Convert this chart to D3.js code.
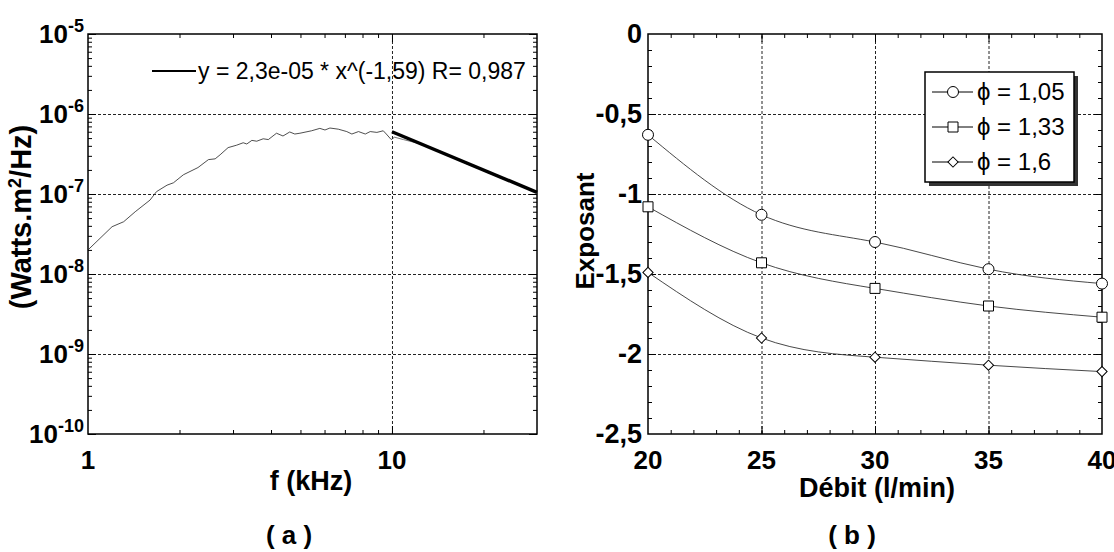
<!DOCTYPE html>
<html>
<head>
<meta charset="utf-8">
<script src="https://cdn.jsdelivr.net/npm/d3@7"></script>
<style>
body { margin: 0; background: #fff; }
text { font-family: "Liberation Sans", Arial, sans-serif; fill: #000; }
.grid line { stroke: #222; stroke-width: 1; stroke-dasharray: 3,2; }
.tk line { stroke: #000; stroke-width: 1; }
</style>
</head>
<body>
<svg id="chart" width="1114" height="552"></svg>
<script>
// ---- panel (a) : spectrum ----
var specFreq = [1.0, 1.2, 1.31, 1.43, 1.6, 1.68, 1.82, 1.91, 2.06, 2.3, 2.49, 2.62, 2.72, 2.89, 3.08, 3.24, 3.33,
  3.46, 3.59, 3.77, 3.92, 4.17, 4.38, 4.61, 4.79, 4.98, 5.44, 5.79, 6.02, 6.25, 6.66, 7.1, 7.38, 7.76, 8.17,
  8.48, 8.92, 9.36, 9.58, 9.94, 10.2, 10.9, 12, 13, 14.5, 16, 17.5, 19, 21, 23, 25, 27, 29, 30];
var specPower = [2.0e-8, 3.9e-8, 4.5e-8, 6.0e-8, 8.4e-8, 1.07e-7, 1.29e-7, 1.38e-7, 1.74e-7, 2.14e-7, 2.69e-7, 2.75e-7, 3.09e-7,
  3.8e-7, 4.07e-7, 4.37e-7, 4.22e-7, 4.68e-7, 4.57e-7, 4.9e-7, 4.79e-7, 5.75e-7, 5.31e-7, 5.96e-7, 5.62e-7, 5.75e-7,
  6.17e-7, 6.61e-7, 6.31e-7, 6.68e-7, 6.46e-7, 6.03e-7, 5.62e-7, 6.03e-7, 5.62e-7, 6.03e-7, 5.89e-7, 6.17e-7, 5.62e-7,
  4.79e-7, 5.13e-7, 4.79e-7, 4.37e-7, 3.98e-7, 3.39e-7, 2.88e-7, 2.4e-7, 2.14e-7, 1.8e-7, 1.58e-7, 1.4e-7, 1.22e-7, 1.1e-7, 1.02e-7];
var fitFreq = [10, 30];
var fitPower = [6.0e-7, 1.05e-7];
var fitLabel = "y = 2,3e-05 * x^(-1,59) R= 0,987";
var yDecades = [-10, -9, -8, -7, -6, -5];
var xLabelsA = [1, 10];

// ---- panel (b) : exponent vs flow ----
var debit = [20, 25, 30, 35, 40];
var exp105 = [-0.63, -1.13, -1.30, -1.47, -1.56];
var exp133 = [-1.08, -1.43, -1.59, -1.70, -1.77];
var exp160 = [-1.49, -1.90, -2.02, -2.07, -2.11];
var seriesNames = ["\u03d5 = 1,05", "\u03d5 = 1,33", "\u03d5 = 1,6"];
var yTicksB = [0, -0.5, -1, -1.5, -2, -2.5];
var xTicksB = [20, 25, 30, 35, 40];

var svg = d3.select("#chart");
var plotTop = 34, plotBottom = 434;

function fmt(v) { return String(v).replace(".", ","); }

// inward ticks on all four sides + dashed grid
function frame(x, y, xMinor, xMajor, yMinor, yMajor, xGrid, yGrid) {
  var x0 = x.range()[0], x1 = x.range()[1];
  var h = plotBottom - plotTop, w = x1 - x0;
  var g = svg.append("g");
  g.append("g").attr("class", "grid").attr("transform", `translate(0,${plotBottom})`)
    .call(d3.axisBottom(x).tickValues(xGrid).tickSize(-h).tickFormat(""));
  g.append("g").attr("class", "grid").attr("transform", `translate(${x0},0)`)
    .call(d3.axisLeft(y).tickValues(yGrid).tickSize(-w).tickFormat(""));
  [[xMinor, 4], [xMajor, 8]].forEach(function(p) {
    g.append("g").attr("class", "tk").attr("transform", `translate(0,${plotBottom})`)
      .call(d3.axisBottom(x).tickValues(p[0]).tickSize(-p[1]).tickFormat(""));
    g.append("g").attr("class", "tk").attr("transform", `translate(0,${plotTop})`)
      .call(d3.axisTop(x).tickValues(p[0]).tickSize(-p[1]).tickFormat(""));
  });
  [[yMinor, 4], [yMajor, 8]].forEach(function(p) {
    g.append("g").attr("class", "tk").attr("transform", `translate(${x0},0)`)
      .call(d3.axisLeft(y).tickValues(p[0]).tickSize(-p[1]).tickFormat(""));
    g.append("g").attr("class", "tk").attr("transform", `translate(${x1},0)`)
      .call(d3.axisRight(y).tickValues(p[0]).tickSize(-p[1]).tickFormat(""));
  });
  g.selectAll(".domain").remove();
  g.append("rect").attr("x", x0).attr("y", plotTop).attr("width", w).attr("height", h)
    .attr("fill", "none").attr("stroke", "#000").attr("stroke-width", 1.5);
}

// ================= (a) =================
var xA = d3.scaleLog().domain([1, 30]).range([88, 537]);
var yA = d3.scaleLog().domain([1e-10, 1e-5]).range([plotBottom, plotTop]);

var yMinorA = [];
yDecades.slice(0, -1).forEach(function(k) { for (var m = 2; m <= 9; m++) yMinorA.push(m * Math.pow(10, k)); });
var xMinorA = [2, 3, 4, 5, 6, 7, 8, 9, 20];
frame(xA, yA, xMinorA, [10], yMinorA, yDecades.map(k => Math.pow(10, k)),
  [10], yDecades.slice(1, -1).map(k => Math.pow(10, k)));

var lineA = d3.line().x((d, i) => xA(specFreq[i])).y(d => yA(d));
svg.append("path").datum(specPower.slice(0, 41)).attr("d", lineA)
  .attr("fill", "none").attr("stroke", "#222").attr("stroke-width", 0.8);
svg.append("path").datum(specPower.slice(40)).attr("d", d3.line().x((d, i) => xA(specFreq[i + 40])).y(d => yA(d)))
  .attr("fill", "none").attr("stroke", "#777").attr("stroke-width", 1);
svg.append("path").datum(fitPower).attr("d", d3.line().x((d, i) => xA(fitFreq[i])).y(d => yA(d)))
  .attr("fill", "none").attr("stroke", "#000").attr("stroke-width", 3.5);

// y tick labels 10^k
yDecades.forEach(function(k) {
  var t = svg.append("text").attr("x", 84).attr("y", yA(Math.pow(10, k)) + 9)
    .attr("text-anchor", "end").attr("font-weight", "bold").attr("font-size", 26);
  t.append("tspan").text("10");
  t.append("tspan").attr("dy", -11).attr("font-size", 18).text(String(k));
});
xLabelsA.forEach(function(v) {
  svg.append("text").attr("x", xA(v)).attr("y", 469).attr("text-anchor", "middle")
    .attr("font-weight", "bold").attr("font-size", 26).text(v);
});

// legend (a)
svg.append("line").attr("x1", 152).attr("x2", 196).attr("y1", 71).attr("y2", 71)
  .attr("stroke", "#000").attr("stroke-width", 2);
svg.append("text").attr("x", 198).attr("y", 79).attr("font-size", 23).text(fitLabel);

// titles (a)
svg.append("text").attr("x", 311).attr("y", 490).attr("text-anchor", "middle")
  .attr("font-weight", "bold").attr("font-size", 27).text("f (kHz)");
var yt = svg.append("text").attr("transform", "translate(31,217) rotate(-90)").attr("text-anchor", "middle")
  .attr("font-weight", "bold").attr("font-size", 29);
yt.append("tspan").text("(Watts.m");
yt.append("tspan").attr("dy", -10).attr("font-size", 18).text("2");
yt.append("tspan").attr("dy", 10).text("/Hz)");
svg.append("text").attr("x", 289).attr("y", 544).attr("text-anchor", "middle")
  .attr("font-weight", "bold").attr("font-size", 26).text("( a )");

// ================= (b) =================
var xB = d3.scaleLinear().domain([20, 40]).range([648, 1102]);
var yB = d3.scaleLinear().domain([-2.5, 0]).range([plotBottom, plotTop]);
frame(xB, yB, d3.range(21, 40), [25, 30, 35], d3.range(-24, 0).map(v => v / 10), [-0.5, -1, -1.5, -2],
  [25, 30, 35], [-0.5, -1, -1.5, -2]);

var lineB = d3.line().x((d, i) => xB(debit[i])).y(d => yB(d)).curve(d3.curveNatural);
var allSeries = [exp105, exp133, exp160];
var shapes = [d3.symbolCircle, d3.symbolSquare, d3.symbolSquare];
var sizes = [95, 100, 52];
var turns = [0, 0, 45];

allSeries.forEach(function(s, j) {
  svg.append("path").datum(s).attr("d", lineB).attr("fill", "none").attr("stroke", "#333").attr("stroke-width", 0.9);
  svg.selectAll(null).data(s).enter().append("path")
    .attr("d", d3.symbol().type(shapes[j]).size(sizes[j]))
    .attr("transform", (d, i) => `translate(${xB(debit[i])},${yB(d)}) rotate(${turns[j]})`)
    .attr("fill", "#fff").attr("stroke", "#000").attr("stroke-width", 1);
});

yTicksB.forEach(function(v) {
  svg.append("text").attr("x", 642).attr("y", yB(v) + 9).attr("text-anchor", "end")
    .attr("font-weight", "bold").attr("font-size", 27).text(fmt(v));
});
xTicksB.forEach(function(v) {
  svg.append("text").attr("x", xB(v)).attr("y", 469).attr("text-anchor", "middle")
    .attr("font-weight", "bold").attr("font-size", 26).text(v);
});

// legend (b)
svg.append("rect").attr("x", 929).attr("y", 76).attr("width", 149).attr("height", 110).attr("fill", "#333");
svg.append("rect").attr("x", 925).attr("y", 72).attr("width", 149).attr("height", 110)
  .attr("fill", "#fff").attr("stroke", "#000").attr("stroke-width", 1.5);
seriesNames.forEach(function(name, j) {
  var cy = 92 + j * 35;
  svg.append("line").attr("x1", 932).attr("x2", 973).attr("y1", cy).attr("y2", cy).attr("stroke", "#000");
  svg.append("path").attr("d", d3.symbol().type(shapes[j]).size(sizes[j])())
    .attr("transform", `translate(953,${cy}) rotate(${turns[j]})`).attr("fill", "#fff").attr("stroke", "#000");
  svg.append("text").attr("x", 977).attr("y", cy + 8).attr("font-size", 24).text(name);
});

// titles (b)
svg.append("text").attr("x", 877).attr("y", 497).attr("text-anchor", "middle")
  .attr("font-weight", "bold").attr("font-size", 27).text("D\u00e9bit (l/min)");
svg.append("text").attr("transform", "translate(594,231) rotate(-90)").attr("text-anchor", "middle")
  .attr("font-weight", "bold").attr("font-size", 26).text("Exposant");
svg.append("text").attr("x", 852).attr("y", 544).attr("text-anchor", "middle")
  .attr("font-weight", "bold").attr("font-size", 26).text("( b )");
</script>
</body>
</html>
